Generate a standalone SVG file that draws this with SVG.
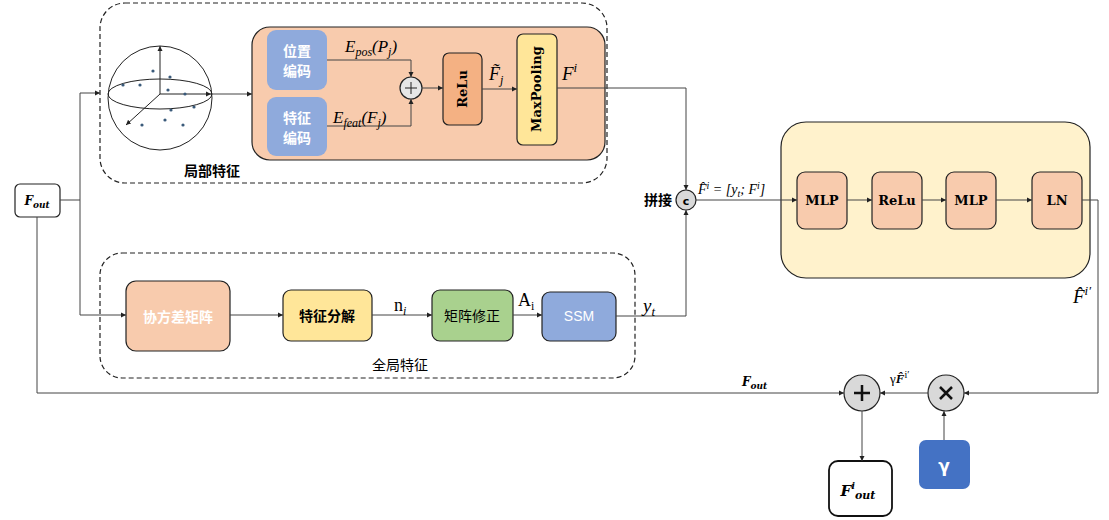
<svg xmlns="http://www.w3.org/2000/svg" width="1109" height="520" viewBox="0 0 1109 520">
<defs>
<marker id="a" markerWidth="6" markerHeight="6" refX="5" refY="3" orient="auto"><path d="M0,0.5 L5,3 L0,5.5z" fill="#222"/></marker>
<style>
.l{fill:none;stroke:#444;stroke-width:1;marker-end:url(#a)}
.d{fill:none;stroke:#222;stroke-width:1.2;stroke-dasharray:5,3}
.b{stroke:#222;stroke-width:1.2}
.cn{font-family:"Noto Sans CJK SC",sans-serif;font-size:14px;text-anchor:middle}
.m{font-family:"Liberation Serif",serif;font-style:italic;font-size:17px}
.bf{font-family:"DejaVu Serif",serif;font-weight:bold;font-size:13px;text-anchor:middle}
</style>
</defs>
<rect width="1109" height="520" fill="#fff"/>
<g id="local">
<rect class="d" x="100" y="3" width="507" height="180" rx="25"/>
<text class="cn" x="212" y="176" font-weight="bold" font-size="15">局部特征</text>
</g>
<g id="sphere" fill="none" stroke="#222">
<circle cx="160" cy="98" r="52"/>
<ellipse cx="160" cy="94" rx="52" ry="15"/>
<line x1="160" y1="94" x2="160" y2="46" marker-end="url(#a)"/>
<line x1="160" y1="94" x2="211" y2="94" marker-end="url(#a)"/>
<line x1="160" y1="94" x2="126" y2="125" marker-end="url(#a)"/>
<g fill="#3a5a7a" stroke="none">
<circle cx="153" cy="71" r="1.6"/><circle cx="170" cy="77" r="1.6"/><circle cx="140" cy="85" r="1.6"/><circle cx="168" cy="90" r="1.6"/><circle cx="185" cy="94" r="1.6"/><circle cx="194" cy="107" r="1.6"/><circle cx="171" cy="110" r="1.6"/><circle cx="165" cy="120" r="1.6"/><circle cx="142" cy="125" r="1.6"/><circle cx="183" cy="125" r="1.6"/><circle cx="123" cy="85" r="1.6"/>
</g>
</g>
<g id="encbox"><rect class="b" x="252" y="27" width="353" height="133" rx="18" fill="#F8CBAD"/></g>
<g id="pos"><rect x="267" y="30" width="60" height="60" rx="9" fill="#8FAADC"/><text class="cn" x="297" y="56" fill="#fff" font-weight="bold">位置</text><text class="cn" x="297" y="76" fill="#fff" font-weight="bold">编码</text></g>
<g id="feat"><rect x="267" y="97" width="60" height="59" rx="9" fill="#8FAADC"/><text class="cn" x="297" y="123" fill="#fff" font-weight="bold">特征</text><text class="cn" x="297" y="143" fill="#fff" font-weight="bold">编码</text></g>
<g id="plus"><circle class="b" cx="411" cy="88" r="11" fill="#e6e6e6"/><path d="M405,88h12M411,82v12" stroke="#222"/></g>
<g id="relu1"><rect class="b" x="443" y="53" width="39" height="72" rx="6" fill="#F4B183"/><text class="bf" transform="translate(467,89) rotate(-90)">ReLu</text></g>
<g id="maxpool"><rect class="b" x="517" y="34" width="40" height="111" rx="6" fill="#FFE699"/><text class="bf" transform="translate(541,89) rotate(-90)">MaxPooling</text></g>
<g id="global">
<rect class="d" x="100" y="253" width="535" height="125" rx="22"/>
<text class="cn" x="400" y="370" font-size="15">全局特征</text>
</g>
<g id="cov"><rect class="b" x="126" y="281" width="104" height="70" rx="10" fill="#F8CBAD"/><text class="cn" x="178" y="322" fill="#fff" font-size="16" font-weight="bold">协方差矩阵</text></g>
<g id="eig"><rect class="b" x="283" y="290" width="89" height="51" rx="8" fill="#FFE699"/><text class="cn" x="327" y="321" font-weight="bold" font-size="15">特征分解</text></g>
<g id="fix"><rect class="b" x="432" y="290" width="81" height="51" rx="8" fill="#A9D18E"/><text class="cn" x="472" y="321" font-size="15">矩阵修正</text></g>
<g id="ssm"><rect class="b" x="542" y="292" width="74" height="49" rx="8" fill="#8FAADC"/><text x="579" y="321" fill="#fff" font-family="Liberation Sans,sans-serif" font-size="14" text-anchor="middle">SSM</text></g>
<g id="fout"><rect class="b" x="15" y="184" width="45" height="33" rx="5" fill="#fff"/><text x="37" y="205" font-family="DejaVu Serif,serif" font-weight="bold" font-style="italic" font-size="12" text-anchor="middle">F<tspan font-size="9" dy="3">out</tspan></text></g>
<g id="concat"><circle class="b" cx="686" cy="200" r="10" fill="#d9d9d9"/><text x="686" y="205" font-family="DejaVu Sans,sans-serif" font-weight="bold" font-size="11" text-anchor="middle">c</text><text class="cn" x="658" y="205" font-size="12" font-weight="bold">拼接</text></g>
<g id="mlpbox"><rect class="b" x="781" y="122" width="309" height="156" rx="25" fill="#FFF2CC"/></g>
<g id="mlp1"><rect class="b" x="797" y="172" width="50" height="57" rx="8" fill="#F8CBAD"/><text class="bf" x="822" y="205">MLP</text></g>
<g id="relu2"><rect class="b" x="872" y="172" width="50" height="57" rx="8" fill="#F8CBAD"/><text class="bf" x="897" y="205">ReLu</text></g>
<g id="mlp2"><rect class="b" x="946" y="172" width="50" height="57" rx="8" fill="#F8CBAD"/><text class="bf" x="971" y="205">MLP</text></g>
<g id="ln"><rect class="b" x="1032" y="172" width="50" height="57" rx="8" fill="#F8CBAD"/><text class="bf" x="1057" y="205">LN</text></g>
<g id="add"><circle class="b" cx="862" cy="393" r="18" fill="#d9d9d9"/><path d="M854,393h16M862,385v16" stroke="#111" stroke-width="2.5"/></g>
<g id="mul"><circle class="b" cx="946" cy="393" r="18" fill="#d9d9d9"/><path d="M940,387l12,12M952,387l-12,12" stroke="#111" stroke-width="2.5"/></g>
<g id="gamma"><rect x="919" y="440" width="51" height="49" rx="7" fill="#4472C4"/><text x="944" y="472" fill="#fff" font-family="DejaVu Sans,sans-serif" font-weight="bold" font-size="17" text-anchor="middle">γ</text></g>
<g id="fiout"><rect x="829" y="461" width="63" height="55" rx="9" fill="#fff" stroke="#111" stroke-width="1.8"/><text x="858" y="496" font-family="DejaVu Serif,serif" font-weight="bold" font-style="italic" font-size="15" text-anchor="middle">F<tspan font-size="10" dy="-7">i</tspan><tspan font-size="11" dy="10">out</tspan></text></g>
<g id="connectors">
<path class="l" d="M60,200H80V93H100"/>
<path class="l" d="M212,94H252"/>
<path class="l" d="M80,200V315H126"/>
<path class="l" d="M37,217V393H844"/>
<path class="l" d="M327,60H411V77"/>
<path class="l" d="M327,126H411V99"/>
<path class="l" d="M422,88H443"/>
<path class="l" d="M482,89H517"/>
<path class="l" d="M557,88H686V190"/>
<path class="l" d="M616,316H686V210"/>
<path class="l" d="M696,200H797"/>
<path class="l" d="M847,200H872"/>
<path class="l" d="M922,200H946"/>
<path class="l" d="M996,200H1032"/>
<path class="l" d="M1082,200H1098V393H964"/>
<path class="l" d="M928,393H880"/>
<path class="l" d="M944,440V411"/>
<path class="l" d="M862,411V461"/>
<path class="l" d="M230,315H283"/>
<path class="l" d="M372,315H432"/>
<path class="l" d="M513,315H542"/>
</g>
<g id="labels" class="m">
<text x="345" y="52">E<tspan font-size="12" dy="4">pos</tspan><tspan dy="-4">(P</tspan><tspan font-size="12" dy="4">j</tspan><tspan dy="-4">)</tspan></text>
<text x="333" y="123">E<tspan font-size="12" dy="4">feat</tspan><tspan dy="-4">(F</tspan><tspan font-size="12" dy="4">j</tspan><tspan dy="-4">)</tspan></text>
<text x="489" y="80" font-size="18">F̃<tspan font-size="12" dy="4">j</tspan></text>
<text x="562" y="80" font-size="19">F<tspan font-size="13" dy="-8">i</tspan></text>
<text x="698" y="194" font-size="14">F̂<tspan font-size="10" dy="-5">i</tspan><tspan dy="5"> = [y</tspan><tspan font-size="10" dy="3">t</tspan><tspan dy="-3">; F</tspan><tspan font-size="10" dy="-5">i</tspan><tspan dy="5">]</tspan></text>
<text x="394" y="311" font-style="normal" font-size="18">n<tspan font-size="12" dy="4" font-style="italic">i</tspan></text>
<text x="518" y="306" font-style="normal" font-size="18">A<tspan font-size="12" dy="4">i</tspan></text>
<text x="643" y="312" font-size="19">y<tspan font-size="13" dy="4">t</tspan></text>
<text x="1073" y="303" font-size="19">F̂<tspan font-size="13" dy="-8">i′</tspan></text>
<text x="742" y="386" font-family="DejaVu Serif,serif" font-weight="bold" font-size="12">F<tspan font-size="9" dy="3">out</tspan></text>
<text x="890" y="383" font-size="13" font-style="normal">γ<tspan font-weight="bold" font-style="italic">F̂</tspan><tspan font-size="10" dy="-5">i′</tspan></text>
</g>
</svg>
